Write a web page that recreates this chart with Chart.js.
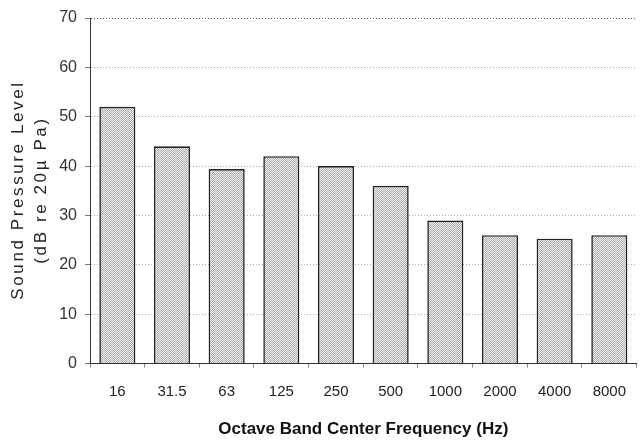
<!DOCTYPE html>
<html>
<head>
<meta charset="utf-8">
<script src="https://cdn.jsdelivr.net/npm/chart.js@4"></script>
<style>
html,body{margin:0;padding:0;background:#fff;}
#wrap{width:641px;height:443px;position:relative;}
</style>
</head>
<body>
<div id="wrap"><canvas id="c" width="641" height="443"></canvas></div>
<script>
const categories = ['16','31.5','63','125','250','500','1000','2000','4000','8000'];
const levels = [52, 44, 39.4, 42, 40, 36, 29, 26, 25.3, 26];
const yTicks = [0,10,20,30,40,50,60,70];
const yTitleLines = ['Sound Pressure Level', '(dB re 20\u00b5 Pa)'];
const xTitle = 'Octave Band Center Frequency (Hz)';

function makePattern(){
  const p = document.createElement('canvas');
  p.width = 4; p.height = 4;
  const g = p.getContext('2d');
  const px = [
    ['#f4f4f4','#a8a8a8','#f0f0f0','#b4b4b4'],
    ['#b0b0b0','#ececec','#a0a0a0','#f6f6f6'],
    ['#f2f2f2','#9c9c9c','#eeeeee','#acacac'],
    ['#a6a6a6','#f8f8f8','#b2b2b2','#eaeaea']
  ];
  for(let y=0;y<4;y++)for(let x=0;x<4;x++){g.fillStyle=px[y][x];g.fillRect(x,y,1,1);}
  return document.getElementById('c').getContext('2d').createPattern(p,'repeat');
}

const yTitlePlugin = {
  id:'yTitle',
  afterDraw(chart){
    const ctx = chart.ctx;
    const cy = 190;
    const xs = [18, 41];
    ctx.save();
    ctx.fillStyle = '#222';
    ctx.font = '17px "Liberation Sans", Arial, sans-serif';
    ctx.textAlign = 'center';
    ctx.textBaseline = 'middle';
    try{ ctx.letterSpacing = '2.6px'; }catch(e){}
    yTitleLines.forEach((t,i)=>{
      ctx.save();
      ctx.translate(xs[i], cy);
      ctx.rotate(-Math.PI/2);
      ctx.fillText(t, 0, 0);
      ctx.restore();
    });
    ctx.restore();
  }
};

new Chart(document.getElementById('c'), {
  type:'bar',
  data:{
    labels: categories,
    datasets:[{
      data: levels,
      backgroundColor: makePattern(),
      borderColor:'#222',
      borderWidth:1.6,
      categoryPercentage:1,
      barPercentage:0.66
    }]
  },
  options:{
    responsive:false,
    animation:false,
    events:[],
    layout:{padding:{top:18,right:0,bottom:3,left:0}},
    plugins:{legend:{display:false},tooltip:{enabled:false}},
    scales:{
      x:{
        offset:true,
        grid:{display:true,drawOnChartArea:false,drawTicks:true,tickLength:4,color:'#888',offset:true},
        border:{display:true,color:'#333',dash:[1,1]},
        ticks:{color:'#222',font:{family:'"Liberation Sans", Arial, sans-serif',size:15},padding:15},
        title:{display:true,text:xTitle,color:'#111',font:{family:'"Liberation Sans", Arial, sans-serif',size:17,weight:'bold'},padding:{top:4,bottom:0}}
      },
      y:{
        min:0,max:70,
        afterFit(s){ s.width = 90; },
        afterBuildTicks(s){ s.ticks = yTicks.map(v=>({value:v})); },
        grid:{
          color:(c)=> c.tick && c.tick.value===70 ? '#555' : '#aaa',
          tickLength:5,
          tickColor:'#777'
        },
        border:{display:true,color:'#333',dash:[1,2]},
        ticks:{color:'#333',font:{family:'"Liberation Sans", Arial, sans-serif',size:16},padding:8}
      }
    }
  },
  plugins:[yTitlePlugin]
});
</script>
</body>
</html>
